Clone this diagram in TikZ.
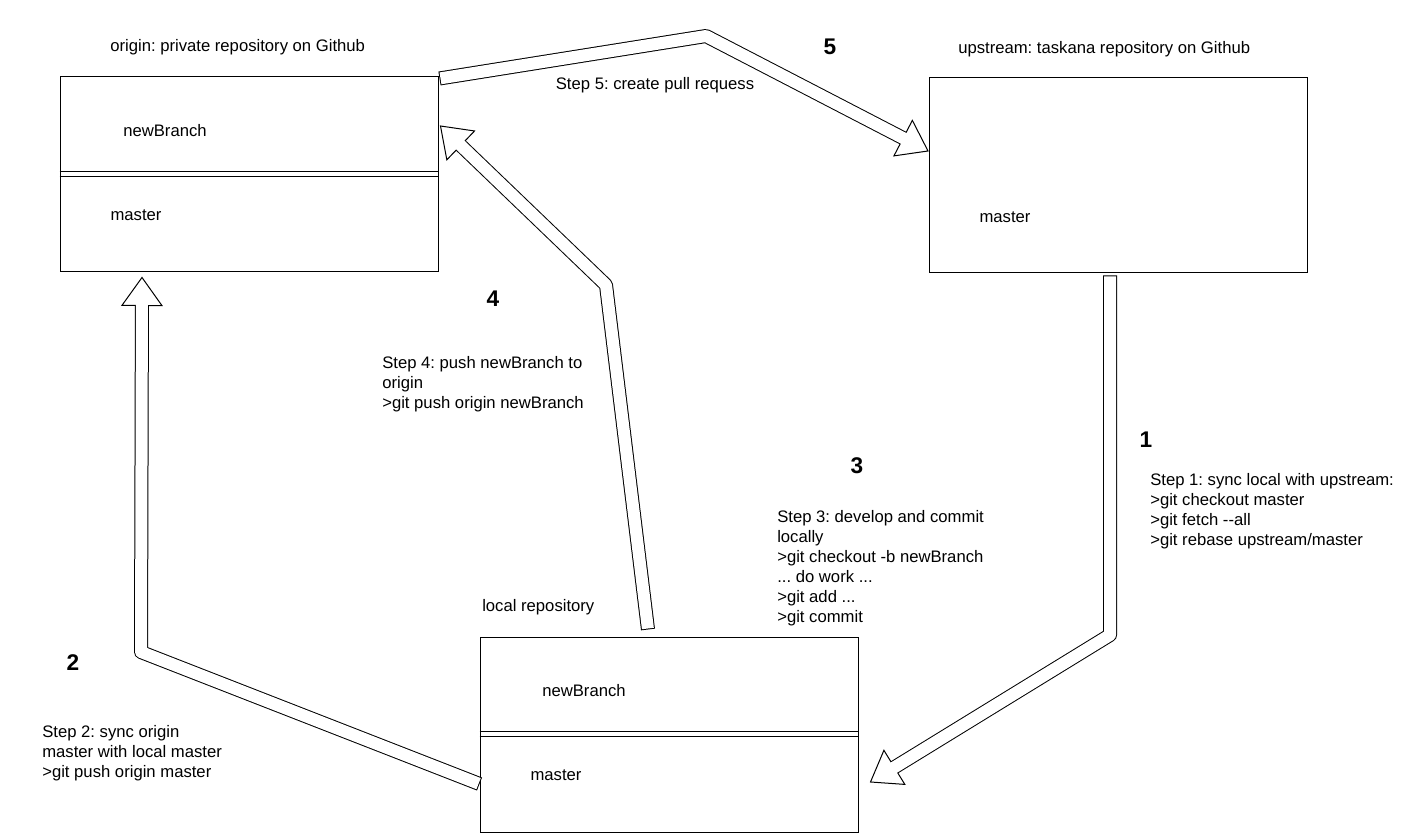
\documentclass[tikz,border=0pt]{standalone}
\usepackage{fontspec}
\setmainfont{Liberation Sans}
\usetikzlibrary{calc}
\frenchspacing

\tikzset{
  repo/.style={draw, line width=0.75pt, minimum width=283.5pt, minimum height=146.25pt, inner sep=0pt},
  txt/.style={inner sep=0pt, font=\fontsize{12.5}{15}\selectfont},
  steptxt/.style={txt, align=left, anchor=north west},
  stepno/.style={inner sep=0pt, font=\fontsize{17}{20}\selectfont\bfseries},
  divider/.style={line width=0.75pt},
}

% flat arrow: tail, last bend, tip
\newcommand\flatarrow[3]{%
  \coordinate (fb) at ($(#3)!21pt!(#2)$);
  \coordinate (fl) at ($(fb)!15pt!90:(#3)$);
  \coordinate (fr) at ($(fb)!15pt!-90:(#3)$);
  \draw[line width=10.5pt, line join=round] (#1) -- (#2) -- (fb);
  \draw[line width=0.75pt, fill=white, line join=miter] (fb) -- (fl) -- (#3) -- (fr) -- cycle;
  \draw[white, line width=9pt, line join=round, shorten <=0.75pt] (#1) -- (#2) -- ($(fb)!3pt!(#3)$);
}

\begin{document}
\begin{tikzpicture}[x=0.75pt, y=-0.75pt]
  \useasboundingbox (0,0) rectangle (1420,837);

  % repositories
  \node[repo] (origin) at (249,174.5) {};
  \node[repo] (upstream) at (1118.5,175.5) {};
  \node[repo] (local) at (669,734.5) {};

  \foreach \r in {origin, local} {
    \draw[divider] ($(\r.north west)+(0,95)$) -- ($(\r.north east)+(0,95)$);
    \draw[divider] ($(\r.north west)+(0,100)$) -- ($(\r.north east)+(0,100)$);
  }

  \node[txt, anchor=west] (originlbl) at (110,47) {origin: private repository on Github};
  \node[txt, anchor=west] (upstreamlbl) at (958,49) {upstream: taskana repository on Github};
  \node[txt, anchor=west] (locallbl) at (482,607) {local repository};

  \node[txt] (originnew) at (165,131) {newBranch};
  \node[txt] (originmaster) at (136,215) {master};
  \node[txt] (upstreammaster) at (1005,217) {master};
  \node[txt] (localnew) at (584,691) {newBranch};
  \node[txt] (localmaster) at (556,775) {master};

  % arrows
  \coordinate (s1) at ($(upstream.south)+(-8.5,2)$);
  \coordinate (b1) at (1110,635);
  \coordinate (t1) at ($(local.east)+(12,47.5)$);
  \flatarrow{s1}{b1}{t1}

  \coordinate (s2) at ($(local.west)+(0,49.5)$);
  \coordinate (b2) at (141,652);
  \coordinate (t2) at ($(origin.south)+(-107,5)$);
  \flatarrow{s2}{b2}{t2}

  \coordinate (s4) at ($(local.north)+(-21,-7)$);
  \coordinate (b4) at (606,285);
  \coordinate (t4) at ($(origin.east)+(2,-48.5)$);
  \flatarrow{s4}{b4}{t4}

  \coordinate (s5) at ($(origin.north east)+(1,2)$);
  \coordinate (b5) at (706,36);
  \coordinate (t5) at ($(upstream.west)+(-1,-24.5)$);
  \flatarrow{s5}{b5}{t5}

  % step numbers and texts
  \node[stepno] (n1) at (1146,440) {1};
  \node[stepno] (n2) at (73,663) {2};
  \node[stepno] (n3) at (857,466) {3};
  \node[stepno] (n4) at (493,299) {4};
  \node[stepno] (n5) at (830,47) {5};

  \node[steptxt] (step1) at (1150,473) {Step 1: sync local with upstream:\\>git checkout master\\>git fetch -{}-all\\>git rebase upstream/master};
  \node[steptxt] (step2) at (42,725) {Step 2: sync origin\\master with local master\\>git push origin master};
  \node[steptxt] (step3) at (777,510) {Step 3: develop and commit\\locally\\>git checkout -b newBranch\\... do work ...\\>git add ...\\>git commit};
  \node[steptxt] (step4) at (382,356) {Step 4: push newBranch to\\origin\\>git push origin newBranch};
  \node[txt] (step5) at (655,85) {Step 5: create pull requess};
\end{tikzpicture}
\end{document}
